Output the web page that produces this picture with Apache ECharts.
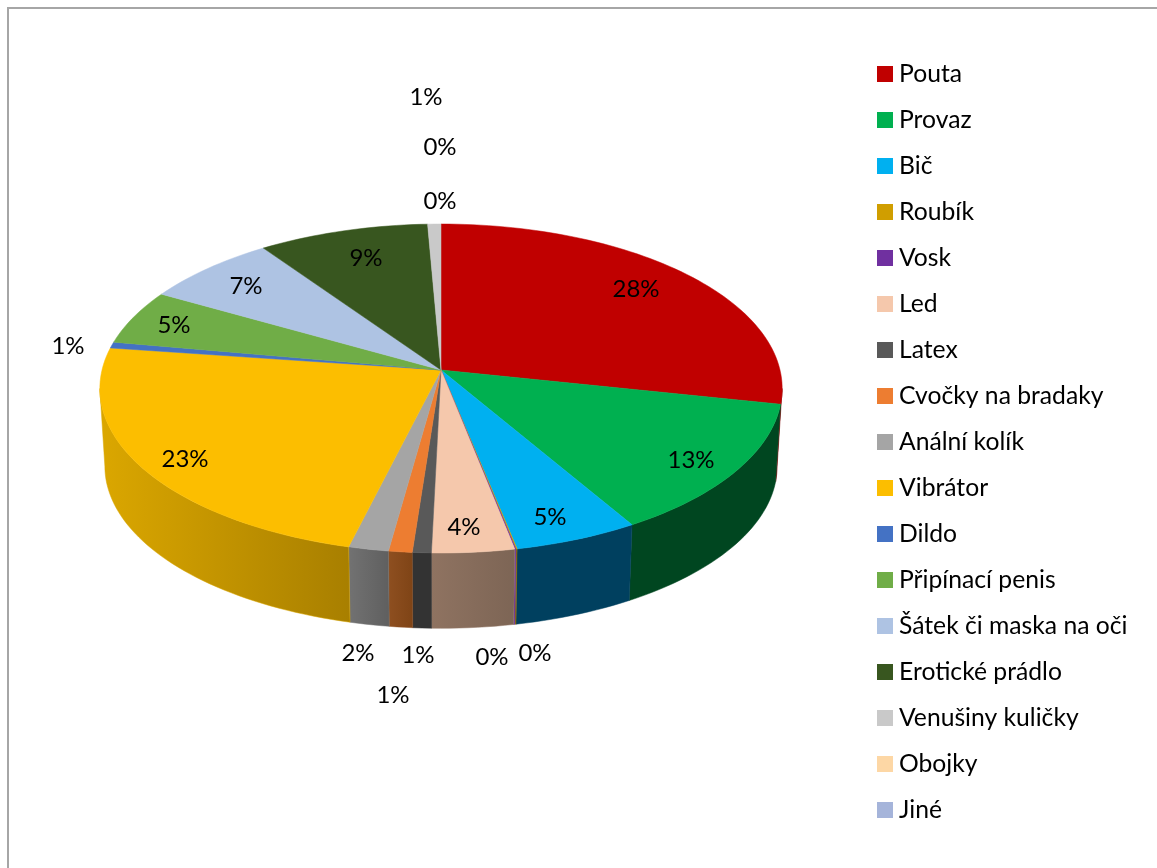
<!DOCTYPE html>
<html><head><meta charset="utf-8">
<style>html,body{margin:0;padding:0;background:#fff}#c{width:1157px;height:868px}</style>
<script src="https://cdn.jsdelivr.net/npm/echarts@6/dist/echarts.min.js"></script>
</head><body><div id="c"></div>
<script>
const categories = ['Pouta','Provaz','Bič','Roubík','Vosk','Led','Latex','Cvočky na bradaky','Anální kolík','Vibrátor','Dildo','Připínací penis','Šátek či maska na oči','Erotické prádlo','Venušiny kuličky','Obojky','Jiné'];
const shares = [28.3,13.2,5.3,0.05,0.05,3.5,0.8,1.0,1.7,23.3,0.6,5.4,7.1,9.0,0.7,0,0];
const topColors = ['#C00000','#00B050','#00B0F0','#D09E00','#7030A0','#F5C8AC','#595959','#ED7D31','#A5A5A5','#FCBE00','#4472C4','#70AD47','#AEC3E3','#38561F','#C9C9C9','#FDD7A5','#A5B4DA'];
const wallColors = [['#7a0000','#7a0000'],['#004620','#004620'],['#00405f','#00405f'],['#8a6a00','#8a6a00'],['#7030A0','#7030A0'],['#8f7361','#7d6555'],['#333333','#333333'],['#8e4f20','#7f4416'],['#727272','#5f5f5f'],['#dba700','#a87f00'],['#2a4a80','#2a4a80'],['#4a7030','#4a7030'],['#70829a','#70829a'],['#253a15','#253a15'],['#888888','#888888'],['#a89070','#a89070'],['#707a90','#707a90']];
const labelAnchors = [[636,289],[691,460],[550,517],[535,653],[492,657],[464,527],[418,655],[393,695],[358,653],[185,459],[68,346],[174,325],[246,286],[366,258],[426,97],[440,147],[440,201]];

const CX=441, CY=370, TOP_A=162.4, TOP_B=339, PERSP=-0.1125, BOT_A=160, BOT_B=334, BOT_DY=78;
const WALL_FROM=96.46, WALL_TO=263.54;
const total = shares.reduce((a,b)=>a+b,0);
const starts = []; shares.reduce((acc,v,i)=>{starts[i]=acc;return acc+v;},0);
const rim=(deg,A,B,dy)=>{const r=deg*Math.PI/180,t=-Math.cos(r),d=1+PERSP*t;return [CX+B*Math.sin(r)/d,CY+dy+A*t/d];};
function arc(a0,a1,A,B,dy){const n=Math.max(2,Math.ceil((a1-a0)/1.5)),o=[];for(let i=0;i<=n;i++)o.push(rim(a0+(a1-a0)*i/n,A,B,dy));return o;}
const LABEL_FONT={fontFamily:'Lato',fontSize:24,fill:'#000'};
function renderSlice(params,api){
  const i=params.seriesIndex, v=api.value(0), kids=[];
  const a0=starts[i]/total*360, a1=a0+v/total*360;
  if(v>0){
    const w0=Math.max(a0,WALL_FROM), w1=Math.min(a1,WALL_TO);
    if(w1>w0){
      const pts=arc(w0,w1,TOP_A,TOP_B,0).concat(arc(w0,w1,BOT_A,BOT_B,BOT_DY).reverse());
      kids.push({type:'polygon',z2:1,shape:{points:pts},style:{
        fill:{type:'linear',x:0,y:0,x2:1,y2:0,colorStops:[{offset:0,color:wallColors[i][0]},{offset:1,color:wallColors[i][1]}]},
        stroke:wallColors[i][0],lineWidth:0.5}});
    }
    kids.push({type:'polygon',z2:10,shape:{points:[[CX,CY]].concat(arc(a0,a1,TOP_A,TOP_B,0))},style:{fill:topColors[i],stroke:topColors[i],lineWidth:0.5}});
  }
  const pct=Math.round(Math.round(v/total*1000)/10);
  kids.push({type:'text',z2:20,x:labelAnchors[i][0],y:labelAnchors[i][1],style:Object.assign({text:pct+'%',align:'center',verticalAlign:'middle'},LABEL_FONT)});
  return {type:'group',children:kids};
}
const chart=echarts.init(document.getElementById('c'),null,{renderer:'canvas',width:1157,height:868});
chart.setOption({
  animation:false,
  backgroundColor:'#fff',
  legend:{orient:'vertical',left:877,top:60,itemWidth:16,itemHeight:16,itemGap:18,padding:0,icon:'rect',selectedMode:false,
    data:categories,textStyle:{fontFamily:'Lato',fontSize:24.7,color:'#000',lineHeight:26,padding:[2,0,0,1]}},
  graphic:[{type:'polyline',shape:{points:[[8,868],[8,8],[1157,8]]},style:{stroke:'#a6a6a6',lineWidth:2,fill:null},silent:true}],
  series:categories.map((name,i)=>({type:'custom',name,coordinateSystem:'none',renderItem:renderSlice,silent:true,
    itemStyle:{color:topColors[i]},data:[[shares[i]]]}))
});
</script></body></html>
